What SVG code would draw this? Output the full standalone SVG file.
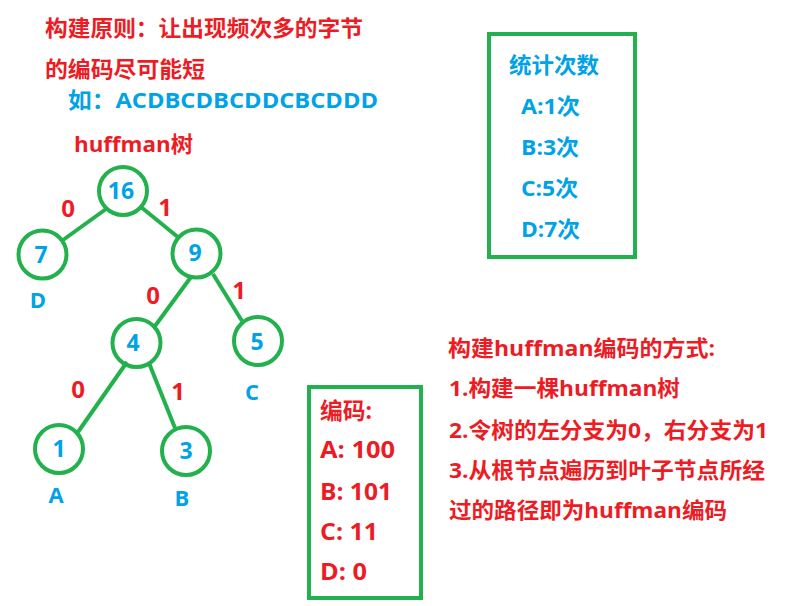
<svg xmlns="http://www.w3.org/2000/svg" width="785" height="606" viewBox="0 0 785 606">
<style>
text{font-family:"Open Sans","Noto Sans CJK SC",sans-serif;font-weight:bold;font-size:22px}
.r{fill:#ed1c24}
.b{fill:#00a2e8}
.m{text-anchor:middle}
.e{font-size:24px}
.c{font-size:23px}
.n{font-size:23px}
.node{fill:none;stroke:#22b14c;stroke-width:4}
.edge{stroke:#22b14c;stroke-width:4;fill:none}
.box{fill:none;stroke:#22b14c;stroke-width:4}
</style>
<rect width="785" height="606" fill="#fff"/>
<g id="title">
<text class="r" x="45" y="36" textLength="318" lengthAdjust="spacingAndGlyphs">构建原则：让出现频次多的字节</text>
<text class="r" x="45" y="77" textLength="160" lengthAdjust="spacingAndGlyphs">的编码尽可能短</text>
<text class="b" x="68" y="108" textLength="310" lengthAdjust="spacingAndGlyphs">如：ACDBCDBCDDCBCDDD</text>
<text class="r" x="74" y="152" textLength="119" lengthAdjust="spacingAndGlyphs">huffman树</text>
</g>
<g id="connectors">
<line class="edge" x1="106" y1="209" x2="63" y2="240"/>
<line class="edge" x1="141" y1="207" x2="179" y2="238"/>
<line class="edge" x1="191" y1="277" x2="155" y2="326"/>
<line class="edge" x1="213" y1="274" x2="242" y2="321"/>
<line class="edge" x1="127" y1="362" x2="78" y2="432"/>
<line class="edge" x1="149" y1="363" x2="175" y2="428"/>
<text class="r m e" x="68" y="217">0</text>
<text class="r m e" x="165" y="216">1</text>
<text class="r m e" x="153" y="304">0</text>
<text class="r m e" x="239" y="299">1</text>
<text class="r m e" x="78" y="398">0</text>
<text class="r m e" x="178" y="400">1</text>
</g>
<g id="n16"><circle class="node" cx="123" cy="191" r="24"/><text class="b m n" x="121" y="199">16</text></g>
<g id="n7"><circle class="node" cx="42.5" cy="254.5" r="24"/><text class="b m n" x="41" y="263">7</text><text class="b m" x="38" y="308">D</text></g>
<g id="n9"><circle class="node" cx="196.5" cy="253.5" r="24"/><text class="b m n" x="195" y="261">9</text></g>
<g id="n4"><circle class="node" cx="136.5" cy="343" r="24"/><text class="b m n" x="133" y="351">4</text></g>
<g id="n5"><circle class="node" cx="258" cy="341" r="24"/><text class="b m n" x="257" y="350">5</text><text class="b m" x="252" y="400">C</text></g>
<g id="n1"><circle class="node" cx="59" cy="449" r="24"/><text class="b m n" x="59" y="457">1</text><text class="b m" x="56" y="503">A</text></g>
<g id="n3"><circle class="node" cx="186" cy="451" r="24"/><text class="b m n" x="186" y="459">3</text><text class="b m" x="182" y="506">B</text></g>
<g id="count-box">
<rect class="box" x="489" y="34" width="146" height="223"/>
<text class="b" x="509" y="73" textLength="90" lengthAdjust="spacingAndGlyphs">统计次数</text>
<text class="b" x="521" y="114" textLength="59" lengthAdjust="spacingAndGlyphs">A:1次</text>
<text class="b" x="521" y="155" textLength="58" lengthAdjust="spacingAndGlyphs">B:3次</text>
<text class="b" x="521" y="196" textLength="57" lengthAdjust="spacingAndGlyphs">C:5次</text>
<text class="b" x="521" y="237" textLength="59" lengthAdjust="spacingAndGlyphs">D:7次</text>
</g>
<g id="code-box">
<rect class="box" x="309" y="387" width="112" height="211"/>
<text class="r c" x="320" y="419" textLength="52" lengthAdjust="spacingAndGlyphs">编码:</text>
<text class="r c" x="320" y="458" textLength="75" lengthAdjust="spacingAndGlyphs">A:  100</text>
<text class="r c" x="320" y="500" textLength="72" lengthAdjust="spacingAndGlyphs">B:  101</text>
<text class="r c" x="320" y="540" textLength="58" lengthAdjust="spacingAndGlyphs">C:  11</text>
<text class="r c" x="320" y="580" textLength="47" lengthAdjust="spacingAndGlyphs">D:  0</text>
</g>
<g id="method">
<text class="r" x="448" y="356" textLength="267" lengthAdjust="spacingAndGlyphs">构建huffman编码的方式:</text>
<text class="r" x="449" y="396" textLength="231" lengthAdjust="spacingAndGlyphs">1.构建一棵huffman树</text>
<text class="r" x="449" y="438" textLength="319" lengthAdjust="spacingAndGlyphs">2.令树的左分支为0，右分支为1</text>
<text class="r" x="449" y="478" textLength="316" lengthAdjust="spacingAndGlyphs">3.从根节点遍历到叶子节点所经</text>
<text class="r" x="449" y="518" textLength="278" lengthAdjust="spacingAndGlyphs">过的路径即为huffman编码</text>
</g>
</svg>
